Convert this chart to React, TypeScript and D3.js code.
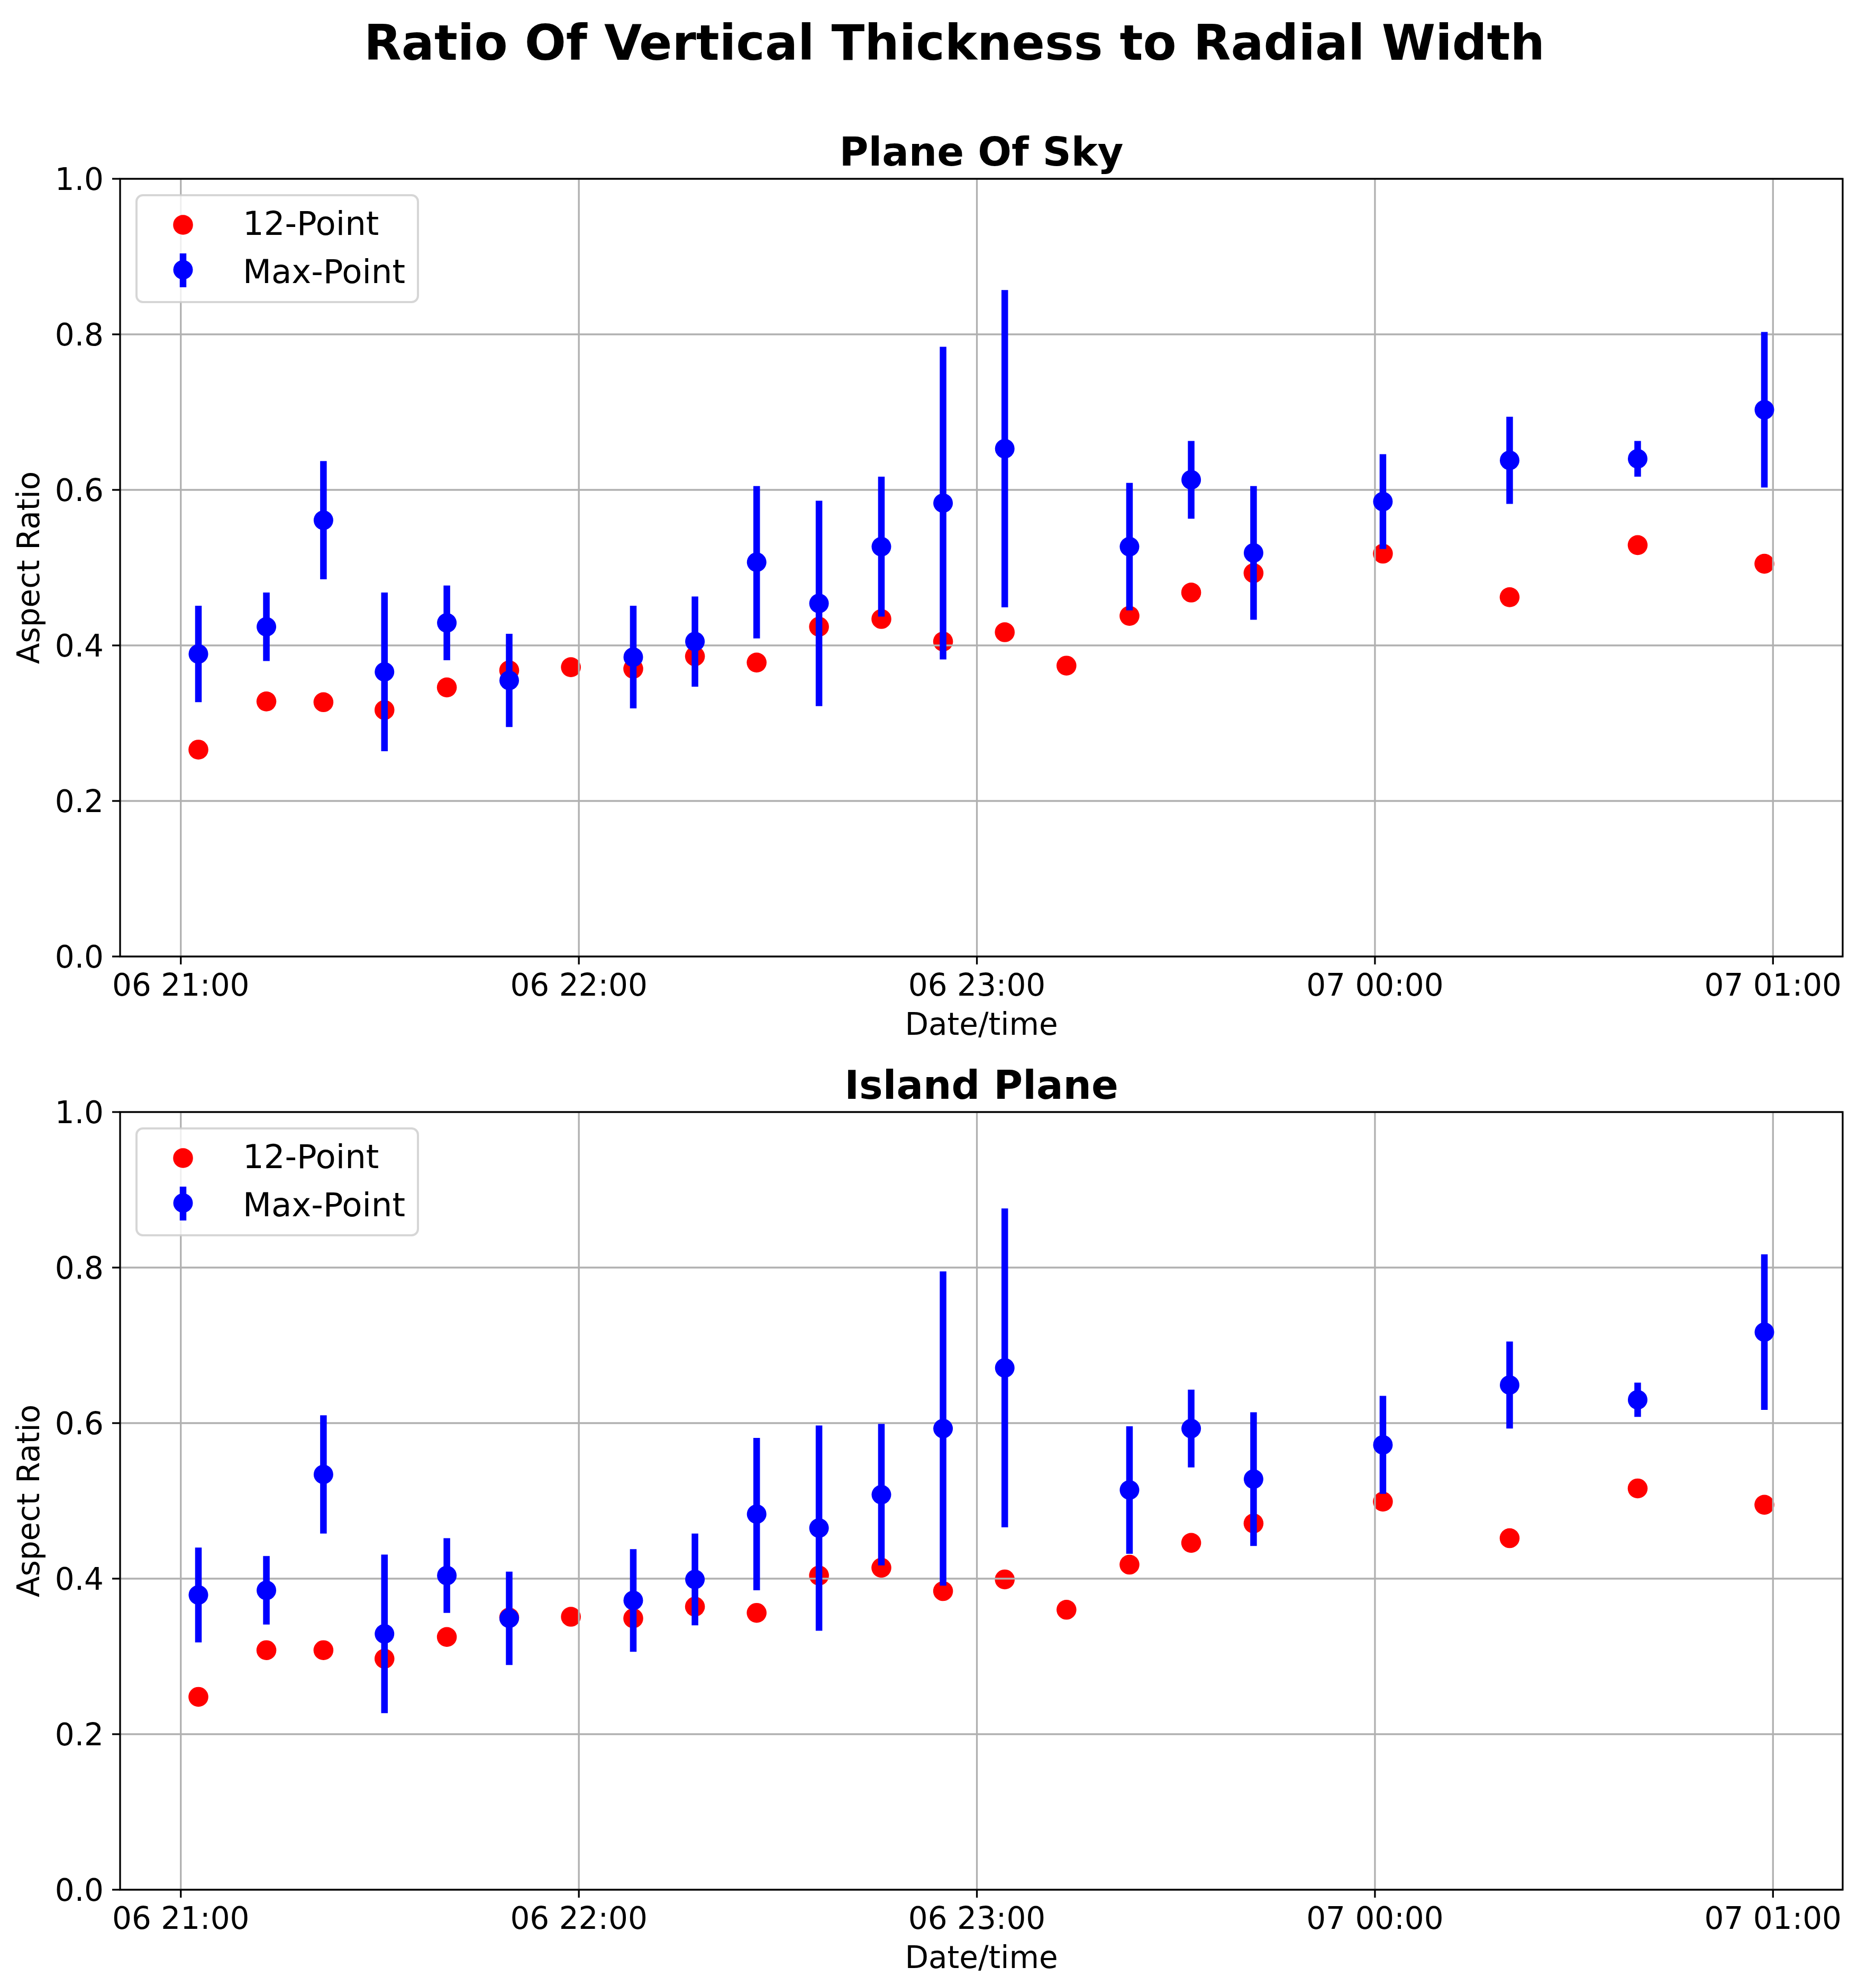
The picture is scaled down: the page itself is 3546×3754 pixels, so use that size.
import * as d3 from "d3"

// observation times (two nights, 06 -> 07)
const times = [
  "2024-06-06T21:02:39", "2024-06-06T21:12:54", "2024-06-06T21:21:30", "2024-06-06T21:30:42",
  "2024-06-06T21:40:06", "2024-06-06T21:49:30", "2024-06-06T21:58:48", "2024-06-06T22:08:12",
  "2024-06-06T22:17:30", "2024-06-06T22:26:48", "2024-06-06T22:36:12", "2024-06-06T22:45:36",
  "2024-06-06T22:54:54", "2024-06-06T23:04:12", "2024-06-06T23:13:30", "2024-06-06T23:23:00",
  "2024-06-06T23:32:18", "2024-06-06T23:41:42", "2024-06-07T00:01:12", "2024-06-07T00:20:18",
  "2024-06-07T00:39:36", "2024-06-07T00:58:42",
]

// Plane Of Sky
const skyTwelve = [0.266, 0.328, 0.327, 0.317, 0.346, 0.368, 0.372, 0.370, 0.386, 0.378, 0.424, 0.434, 0.405, 0.417, 0.374, 0.438, 0.468, 0.493, 0.518, 0.462, 0.529, 0.505]
const skyMax = [0.389, 0.424, 0.561, 0.366, 0.429, 0.355, null, 0.385, 0.405, 0.507, 0.454, 0.527, 0.583, 0.653, null, 0.527, 0.613, 0.519, 0.585, 0.638, 0.640, 0.703]
const skyMaxErr = [0.062, 0.044, 0.076, 0.102, 0.048, 0.060, null, 0.066, 0.058, 0.098, 0.132, 0.090, 0.201, 0.204, null, 0.082, 0.050, 0.086, 0.061, 0.056, 0.023, 0.100]

// Island Plane
const islandTwelve = [0.248, 0.308, 0.308, 0.297, 0.325, 0.350, 0.351, 0.349, 0.364, 0.356, 0.404, 0.414, 0.384, 0.399, 0.360, 0.418, 0.446, 0.471, 0.499, 0.452, 0.516, 0.495]
const islandMax = [0.379, 0.385, 0.534, 0.329, 0.404, 0.349, null, 0.372, 0.399, 0.483, 0.465, 0.508, 0.593, 0.671, null, 0.514, 0.593, 0.528, 0.572, 0.649, 0.630, 0.717]
const islandMaxErr = [0.061, 0.044, 0.076, 0.102, 0.048, 0.060, null, 0.066, 0.059, 0.098, 0.132, 0.091, 0.202, 0.205, null, 0.082, 0.050, 0.086, 0.063, 0.056, 0.022, 0.100]

const seriesNames = ["12-Point", "Max-Point"]

const W = 3546
const H = 3754
const FONT = "'DejaVu Sans', sans-serif"
const AX_LEFT = 227
const AX_RIGHT = 3483
const AX_H = 1470
const TICK = 15
const GRID = "#b0b0b0"

const parse = d3.timeParse("%Y-%m-%dT%H:%M:%S")
const dates = times.map((t) => parse(t) as Date)
const [t0, t1] = d3.extent(dates) as [Date, Date]
const pad = (+t1 - +t0) * 0.05
const x = d3
  .scaleTime()
  .domain([new Date(+t0 - pad), new Date(+t1 + pad)])
  .range([AX_LEFT, AX_RIGHT])
const xTicks = x.ticks(d3.timeHour.every(1) as d3.TimeInterval)
const fmtX = d3.timeFormat("%d %H:%M")
const fmtY = d3.format(".1f")

interface PanelProps {
  title: string
  top: number
  twelve: number[]
  maxPt: (number | null)[]
  err: (number | null)[]
}

function Panel({ title, top, twelve, maxPt, err }: PanelProps) {
  const bottom = top + AX_H
  const y = d3.scaleLinear().domain([0, 1]).range([bottom, top])
  const yTicks = y.ticks(5)
  const midX = (AX_LEFT + AX_RIGHT) / 2

  return (
    <g>
      <text x={midX} y={top - 25} textAnchor="middle" fontSize={75} fontWeight="bold" fontFamily={FONT}>
        {title}
      </text>

      {/* 12-point scatter sits under the grid, like matplotlib */}
      {twelve.map((v, i) => (
        <circle key={"r" + i} cx={x(dates[i])} cy={y(v)} r={18.8} fill="#ff0000" />
      ))}

      {xTicks.map((t, i) => (
        <line key={"gx" + i} x1={x(t)} x2={x(t)} y1={top} y2={bottom} stroke={GRID} strokeWidth={3.3} />
      ))}
      {yTicks.map((t, i) => (
        <line key={"gy" + i} x1={AX_LEFT} x2={AX_RIGHT} y1={y(t)} y2={y(t)} stroke={GRID} strokeWidth={3.3} />
      ))}

      {/* max-point with error bars */}
      {maxPt.map((v, i) =>
        v == null ? null : (
          <g key={"b" + i}>
            <line
              x1={x(dates[i])}
              x2={x(dates[i])}
              y1={y(v - (err[i] ?? 0))}
              y2={y(v + (err[i] ?? 0))}
              stroke="#0000ff"
              strokeWidth={12.5}
            />
            <circle cx={x(dates[i])} cy={y(v)} r={18.5} fill="#0000ff" />
          </g>
        )
      )}

      {/* spines */}
      <rect x={AX_LEFT} y={top} width={AX_RIGHT - AX_LEFT} height={AX_H} fill="none" stroke="#000" strokeWidth={3.3} />

      {/* x axis */}
      {xTicks.map((t, i) => (
        <g key={"xt" + i}>
          <line x1={x(t)} x2={x(t)} y1={bottom} y2={bottom + TICK} stroke="#000" strokeWidth={3.3} />
          <text x={x(t)} y={bottom + 74} textAnchor="middle" fontSize={58} fontFamily={FONT}>
            {fmtX(t)}
          </text>
        </g>
      ))}
      <text x={midX} y={bottom + 148} textAnchor="middle" fontSize={58} fontFamily={FONT}>
        Date/time
      </text>

      {/* y axis */}
      {yTicks.map((t, i) => (
        <g key={"yt" + i}>
          <line x1={AX_LEFT - TICK} x2={AX_LEFT} y1={y(t)} y2={y(t)} stroke="#000" strokeWidth={3.3} />
          <text x={AX_LEFT - TICK - 16} y={y(t) + 21} textAnchor="end" fontSize={58} fontFamily={FONT}>
            {fmtY(t)}
          </text>
        </g>
      ))}
      <text
        transform={`translate(74,${(top + bottom) / 2}) rotate(-90)`}
        textAnchor="middle"
        fontSize={58}
        fontFamily={FONT}
      >
        Aspect Ratio
      </text>

      {/* legend */}
      <rect
        x={258}
        y={top + 31}
        width={532}
        height={202}
        rx={12}
        fill="#fff"
        fillOpacity={0.8}
        stroke="#cccccc"
        strokeOpacity={0.8}
        strokeWidth={4}
      />
      <circle cx={346} cy={top + 87} r={18.8} fill="#ff0000" />
      <line x1={346} x2={346} y1={top + 141} y2={top + 205} stroke="#0000ff" strokeWidth={12.5} />
      <circle cx={346} cy={top + 172} r={18.5} fill="#0000ff" />
      <text x={459} y={top + 106} fontSize={62.5} fontFamily={FONT}>
        {seriesNames[0]}
      </text>
      <text x={459} y={top + 197} fontSize={62.5} fontFamily={FONT}>
        {seriesNames[1]}
      </text>
    </g>
  )
}

export default function App() {
  return (
    <svg
      width={W}
      height={H}
      viewBox={`0 0 ${W} ${H}`}
      style={{ position: "absolute", left: 0, top: 0, display: "block", background: "#fff" }}
    >
      <rect width={W} height={H} fill="#fff" />
      <text x={1804} y={113} textAnchor="middle" fontSize={92} fontWeight="bold" fontFamily={FONT}>
        Ratio Of Vertical Thickness to Radial Width
      </text>
      <Panel title="Plane Of Sky" top={338} twelve={skyTwelve} maxPt={skyMax} err={skyMaxErr} />
      <Panel title="Island Plane" top={2102} twelve={islandTwelve} maxPt={islandMax} err={islandMaxErr} />
    </svg>
  )
}
